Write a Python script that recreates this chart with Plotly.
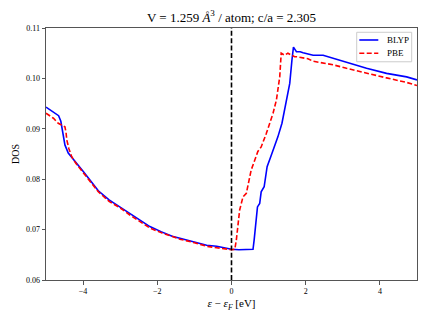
import plotly.graph_objects as go

# BLYP density of states
blyp_e = [-5.0, -4.9, -4.8, -4.72, -4.66, -4.6, -4.55, -4.49, -4.4, -4.26, -4.1, -3.99,
          -3.8, -3.59, -3.3, -3.0, -2.74, -2.5, -2.2, -1.9, -1.6, -1.39, -1.0, -0.67,
          -0.4, -0.13, 0.0, 0.2, 0.4, 0.58, 0.61, 0.70, 0.76, 0.80, 0.88, 0.96, 1.06,
          1.16, 1.25, 1.36, 1.48, 1.57, 1.63, 1.67, 1.75, 1.85, 1.93, 2.06, 2.20, 2.47,
          2.74, 3.10, 3.64, 4.18, 4.72, 5.0]
blyp_dos = [0.0943, 0.0938, 0.0932, 0.0928, 0.0926, 0.0915, 0.0891, 0.0868, 0.0852,
            0.0840, 0.0826, 0.0815, 0.0797, 0.0777, 0.0759, 0.0745, 0.0732, 0.0720,
            0.0706, 0.0696, 0.0687, 0.0683, 0.0676, 0.0669, 0.0667, 0.0663, 0.0661,
            0.0660, 0.0661, 0.0661, 0.0679, 0.0745, 0.0752, 0.0775, 0.0785, 0.0825,
            0.0845, 0.0864, 0.0884, 0.0911, 0.0957, 0.0990, 0.1037, 0.1062, 0.1053,
            0.1053, 0.1051, 0.1048, 0.1046, 0.1046, 0.1040, 0.1033, 0.1020, 0.1010,
            0.1003, 0.0997]

# PBE density of states
pbe_e = [-5.0, -4.9, -4.8, -4.67, -4.55, -4.49, -4.46, -4.44, -4.38, -4.31, -4.2, -4.0,
         -3.8, -3.59, -3.3, -3.0, -2.74, -2.5, -2.2, -1.9, -1.6, -1.39, -1.0, -0.67,
         -0.4, -0.13, 0.0, 0.09, 0.13, 0.22, 0.31, 0.40, 0.53, 0.71, 0.80, 0.94, 1.12,
         1.21, 1.30, 1.34, 1.43, 1.52, 1.70, 1.76, 2.06, 2.2, 2.74, 3.1, 3.64, 4.18,
         4.72, 5.0]
pbe_dos = [0.0931, 0.0926, 0.0921, 0.0911, 0.0907, 0.0904, 0.0893, 0.0878, 0.0860,
           0.0845, 0.0832, 0.0813, 0.0795, 0.0775, 0.0756, 0.0743, 0.0729, 0.0718,
           0.0703, 0.0694, 0.0686, 0.0681, 0.0674, 0.0667, 0.0664, 0.0661, 0.0660,
           0.0661, 0.0679, 0.0739, 0.0765, 0.0772, 0.0818, 0.0855, 0.0864, 0.0891,
           0.0931, 0.0957, 0.1003, 0.1050, 0.1046, 0.1050, 0.1043, 0.1043, 0.1039,
           0.1034, 0.1027, 0.1020, 0.1010, 0.1001, 0.0992, 0.0986]

fermi = 0.0
x_ticks = [-4, -2, 0, 2, 4]
y_ticks = [0.06, 0.07, 0.08, 0.09, 0.10, 0.11]
series_names = ["BLYP", "PBE"]
series_colors = ["#0000ff", "#ff0000"]
series_dash = ["solid", "5px,2.4px"]

serif = "Liberation Serif, Times New Roman, serif"

fig = go.Figure()
for name, xs, ys, col, dash in zip(series_names, [blyp_e, pbe_e], [blyp_dos, pbe_dos],
                                   series_colors, series_dash):
    fig.add_scatter(x=xs, y=ys, mode="lines", name=name, showlegend=False,
                    line=dict(color=col, width=1.6, dash=dash))
fig.add_vline(x=fermi, line=dict(color="black", width=1.6, dash="5px,2.4px"))

# legend drawn by hand, matplotlib-style (compact rows)
fig.add_shape(type="rect", xref="paper", yref="paper",
              x0=0.8375, x1=0.9857, y0=0.866, y1=0.983,
              line=dict(color="#cccccc", width=1), fillcolor="white", layer="above")
for i, (name, col, dash) in enumerate(zip(series_names, series_colors, series_dash)):
    yy = 0.9524 - i * 0.0528
    fig.add_shape(type="line", xref="paper", yref="paper",
                  x0=0.8445, x1=0.8957, y0=yy, y1=yy, layer="above",
                  line=dict(color=col, width=1.6, dash=dash))
    fig.add_annotation(x=0.9137, y=yy, xref="paper", yref="paper", text=name,
                       showarrow=False, xanchor="left", yanchor="middle",
                       font=dict(family=serif, size=9, color="black"))

axis_common = dict(showline=True, mirror=True, linecolor="#555", linewidth=1,
                   ticks="outside", ticklen=3.5, tickcolor="#555", tickwidth=1,
                   showgrid=False, zeroline=False, automargin=False,
                   tickfont=dict(family=serif, size=8, color="black"))

# page body has an 8px margin, so the figure is a bit smaller than the window
fig.update_layout(
    width=419, height=312,
    margin=dict(l=38, r=10, t=20, b=40),
    paper_bgcolor="white", plot_bgcolor="white",
    font=dict(family=serif, color="black"),
    showlegend=False,
    title=dict(text="V = 1.259 <i>Å</i><sup>3</sup> / atom; c/a = 2.305",
               x=0.5, xref="paper", xanchor="center",
               y=1 - 9 / 312, yref="container", yanchor="middle",
               font=dict(family=serif, size=13, color="black")),
    xaxis=dict(range=[-5, 5], tickvals=x_ticks,
               title=dict(text="<i>ε</i> − <i>ε</i><sub><i>F</i></sub> [eV]",
                          standoff=4, font=dict(family=serif, size=11)),
               **axis_common),
    yaxis=dict(range=[0.06, 0.11], tickvals=y_ticks, tickformat=".2f",
               title=dict(text="DOS", standoff=4, font=dict(family=serif, size=10)),
               **axis_common),
)

fig.write_html("out.html")
